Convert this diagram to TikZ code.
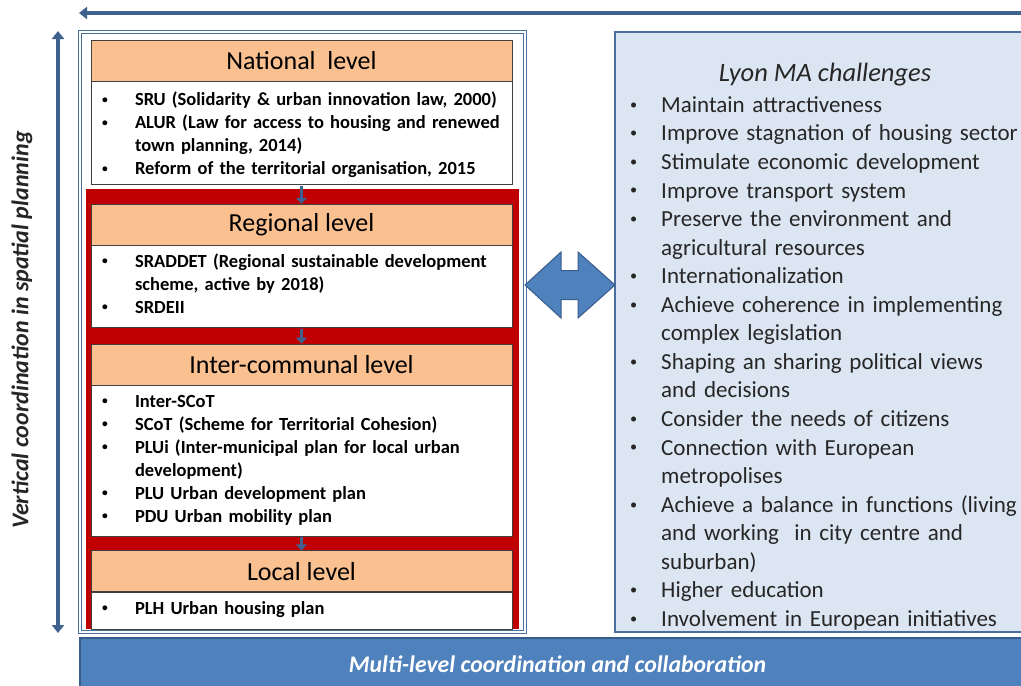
\documentclass[tikz,border=0pt]{standalone}
\usepackage{fontspec}
\usepackage{graphicx}
\setmainfont{Carlito}
\usetikzlibrary{arrows.meta,positioning}
\definecolor{levelpeach}{HTML}{FAC090}
\definecolor{levelred}{HTML}{C00000}
\definecolor{challblue}{HTML}{DCE6F2}
\definecolor{barblue}{HTML}{4F81BD}
\definecolor{barborder}{HTML}{385D8A}
\definecolor{arrowblue}{HTML}{3E6190}
\definecolor{frameblue}{HTML}{4A6E9E}
\definecolor{boxgray}{HTML}{404040}
\definecolor{textgray}{HTML}{262626}
\newlength{\bulletind}
\newlength{\bulletpre}
\newcommand{\smallbullet}{\raisebox{0.14em}{\scalebox{0.62}{\textbullet}}}
\newcommand{\bitem}[1]{\par\rightskip=-40pt plus 1fil\hangindent=\bulletind\hangafter=1\noindent\makebox[\bulletind][l]{\hspace{\bulletpre}\smallbullet}#1}
\tikzset{
  leveltitle/.style={draw=boxgray, fill=levelpeach, minimum width=421pt, minimum height=41pt, inner sep=0pt, font=\fontsize{26}{30}\selectfont},
  levelbox/.style={draw=boxgray, fill=white, minimum width=421pt, inner sep=0pt},
  leveltext/.style={text width=415pt, inner xsep=3pt, inner ysep=0pt, font=\fontsize{18.5}{23}\selectfont\bfseries},
  smallarrow/.style={-{Triangle[length=6pt, width=11pt]}, line width=3.5pt, draw=arrowblue, shorten <=1pt},
  bigarrow/.style={{Triangle[length=8pt, width=12pt]}-{Triangle[length=8pt, width=12pt]}, line width=4pt, draw=arrowblue},
  toparrow/.style={-{Triangle[length=8pt, width=12pt]}, line width=4pt, draw=arrowblue},
  blockarrow/.style={fill=barblue, draw=barborder, line width=1pt, line join=miter}
}

\begin{document}
\begin{tikzpicture}[x=1pt, y=-1pt]
  \useasboundingbox (0,0) rectangle (1021,686);

  % frames
  \node[draw=frameblue, double=white, line width=1pt, double distance=1.5pt, minimum width=445pt, minimum height=600pt] (leftframe) at (302.5,332) {};
  \node[fill=levelred, minimum width=433pt, minimum height=440pt] (redframe) at (302.5,408.5) {};
  \node[draw=frameblue, line width=1.5pt, fill=challblue, minimum width=420pt, minimum height=600pt] (rightframe) at (825,332) {};
  \node[draw=barborder, line width=1.5pt, fill=barblue, minimum width=955pt, minimum height=52pt, text=white, font=\fontsize{23.8}{26}\selectfont\bfseries\itshape] (bottombar) at (557.5,664) {Multi-level coordination and collaboration};

  % coordination arrows
  \coordinate (vtop) at (58,31);
  \coordinate (vbot) at (58,633);
  \draw[bigarrow] (vbot) -- (vtop);
  \node[rotate=90, text=textgray, font=\fontsize{24}{26}\selectfont\bfseries\itshape] (vlabel) at (22,330) {Vertical coordination in spatial planning};
  \coordinate (htail) at (1030,13);
  \coordinate (hhead) at (79,13);
  \draw[toparrow] (htail) -- (hhead);

  % levels
  \setlength{\bulletind}{41pt}\setlength{\bulletpre}{8pt}
  \node[leveltitle, anchor=north] (national) at (301.5,40) {National~ level};
  \node[levelbox, below=0pt of national, minimum height=103pt] (nationallist) {};
  \node[leveltext, below right=1pt and 0pt of nationallist.north west] (nationaltext) {%
    \bitem{SRU (Solidarity \& urban innovation law, 2000)}
    \bitem{ALUR (Law for access to housing and renewed\newline town planning, 2014)}
    \bitem{Reform of the territorial organisation, 2015}};
  \node[leveltitle, below=19pt of nationallist] (regional) {Regional level};
  \node[levelbox, below=0pt of regional, minimum height=82pt] (regionallist) {};
  \node[leveltext, below right=-1pt and 0pt of regionallist.north west] (regionaltext) {%
    \bitem{SRADDET (Regional sustainable development\newline scheme, active by 2018)}
    \bitem{SRDEII}};
  \node[leveltitle, below=16pt of regionallist] (intercom) {Inter-communal level};
  \node[levelbox, below=0pt of intercom, minimum height=151pt] (intercomlist) {};
  \node[leveltext, below right=-1pt and 0pt of intercomlist.north west] (intercomtext) {%
    \bitem{Inter-SCoT}
    \bitem{SCoT (Scheme for Territorial Cohesion)}
    \bitem{PLUi (Inter-municipal plan for local urban\newline development)}
    \bitem{PLU Urban development plan}
    \bitem{PDU Urban mobility plan}};
  \node[leveltitle, below=14pt of intercomlist] (local) {Local level};
  \node[levelbox, below=0pt of local, minimum height=37pt] (locallist) {};
  \node[leveltext, below right=-1pt and 0pt of locallist.north west] (localtext) {%
    \bitem{PLH Urban housing plan}};

  \draw[smallarrow] (nationallist) -- (regional);
  \draw[smallarrow] (regionallist) -- (intercom);
  \draw[smallarrow] (intercomlist) -- (local);

  % challenges
  \node[font=\fontsize{26.5}{30}\selectfont\itshape, text=textgray] (challenges) at (825,75) {Lyon MA challenges};
  \setlength{\bulletind}{35pt}\setlength{\bulletpre}{4pt}
  \node[text width=420pt, inner sep=0pt, anchor=west, text=textgray, font=\fontsize{23}{28.56}\selectfont] (challengelist) at (626,357) {%
    \bitem{Maintain attractiveness}
    \bitem{Improve stagnation of housing sector}
    \bitem{Stimulate economic development}
    \bitem{Improve transport system}
    \bitem{Preserve the environment and\newline agricultural resources}
    \bitem{Internationalization}
    \bitem{Achieve coherence in implementing\newline complex legislation}
    \bitem{Shaping an sharing political views\newline and decisions}
    \bitem{Consider the needs of citizens}
    \bitem{Connection with European\newline metropolises}
    \bitem{Achieve a balance in functions (living\newline and working~ in city centre and\newline suburban)}
    \bitem{Higher education}
    \bitem{Involvement in European initiatives}};

  % link between the two frames
  \coordinate (dl) at (525,285);
  \coordinate (dr) at (615,285);
  \draw[blockarrow] (dl) -- ++(36,-33) -- ++(0,18.5) -- ++(17,0) -- ++(0,-18.5) -- (dr)
    -- ++(-37,33) -- ++(0,-18.5) -- ++(-17,0) -- ++(0,18.5) -- cycle;
\end{tikzpicture}
\end{document}
